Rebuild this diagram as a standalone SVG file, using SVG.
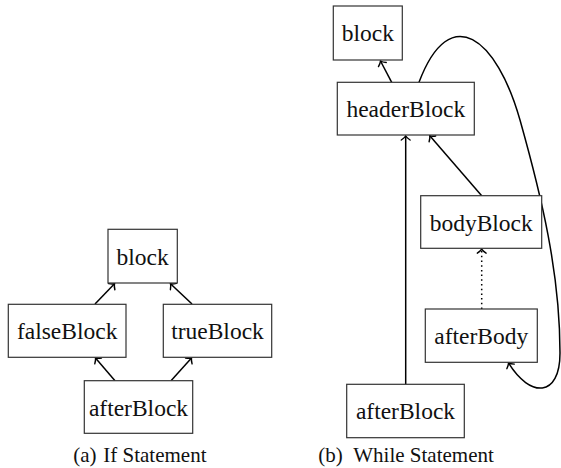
<svg xmlns="http://www.w3.org/2000/svg" width="561" height="468" viewBox="0 0 561 468">
<defs>
<style>
.box{fill:#fff;stroke:#333;stroke-width:1.2}
.lbl{font-family:'Liberation Serif','DejaVu Serif',serif;font-size:23.5px;fill:#111;text-anchor:middle}
.cap{font-family:'Liberation Serif','DejaVu Serif',serif;font-size:21px;fill:#111}
.edge{fill:none;stroke:#000;stroke-width:1.5}
.dot{stroke-dasharray:1.5,3.2}
</style>
<marker id="arr" markerUnits="userSpaceOnUse" markerWidth="12" markerHeight="12" viewBox="-6 -6 12 12" refX="0" refY="0" orient="auto">
<path d="M-4,-4.4 C-2.2,-1.6 -0.8,-0.5 0,0 C-0.8,0.5 -2.2,1.6 -4,4.4" fill="none" stroke="#000" stroke-width="1.4" stroke-linecap="round"/>
</marker>
</defs>
<g id="connectors">
<path class="edge" d="M95,304 L114.5,283.8" marker-end="url(#arr)"/>
<path class="edge" d="M192,304 L170.5,283.8" marker-end="url(#arr)"/>
<path class="edge" d="M115,380.7 L95.5,358" marker-end="url(#arr)"/>
<path class="edge" d="M171,380.7 L191.5,358" marker-end="url(#arr)"/>
<path class="edge" d="M391.7,82.3 L380.5,61" marker-end="url(#arr)"/>
<path class="edge" d="M481.7,195.7 L429.8,135.8" marker-end="url(#arr)"/>
<path class="edge" d="M405.7,384.3 L405.7,136" marker-end="url(#arr)"/>
<path class="edge dot" d="M481.7,309 L481.7,249.2" marker-end="url(#arr)"/>
<path class="edge" d="M419,82.3 C450,0 497,38.4 520,120 C541.6,196.8 560,273 560,353 C560,398 530,398 508.5,363" marker-end="url(#arr)"/>
</g>
<g id="a-block"><rect class="box" x="108" y="229.3" width="69.3" height="53.7"/><text class="lbl" x="142.6" y="264.5">block</text></g>
<g id="a-falseBlock"><rect class="box" x="8.3" y="304.3" width="117.7" height="53"/><text class="lbl" x="67.2" y="339.3">falseBlock</text></g>
<g id="a-trueBlock"><rect class="box" x="163.3" y="304.3" width="108.4" height="53"/><text class="lbl" x="217.5" y="339.3">trueBlock</text></g>
<g id="a-afterBlock"><rect class="box" x="84.3" y="380.7" width="108.4" height="52.6"/><text class="lbl" x="138.5" y="415.5">afterBlock</text></g>
<g id="b-block"><rect class="box" x="333.3" y="6" width="69" height="54"/><text class="lbl" x="367.8" y="41.3">block</text></g>
<g id="b-headerBlock"><rect class="box" x="337.3" y="82.3" width="137" height="52.7"/><text class="lbl" x="405.8" y="117.3">headerBlock</text></g>
<g id="b-bodyBlock"><rect class="box" x="420.7" y="195.7" width="121" height="52.6"/><text class="lbl" x="481.2" y="230.5">bodyBlock</text></g>
<g id="b-afterBody"><rect class="box" x="425.3" y="309" width="112" height="53.3"/><text class="lbl" x="481.3" y="344">afterBody</text></g>
<g id="b-afterBlock"><rect class="box" x="346.7" y="384.3" width="117.6" height="53.4"/><text class="lbl" x="405.5" y="419.3">afterBlock</text></g>
<g id="captions">
<text class="cap" x="73.3" y="462">(a)</text><text class="cap" x="103.3" y="462">If Statement</text>
<text class="cap" x="318.3" y="462">(b)</text><text class="cap" x="353.3" y="462">While Statement</text>
</g>
</svg>
